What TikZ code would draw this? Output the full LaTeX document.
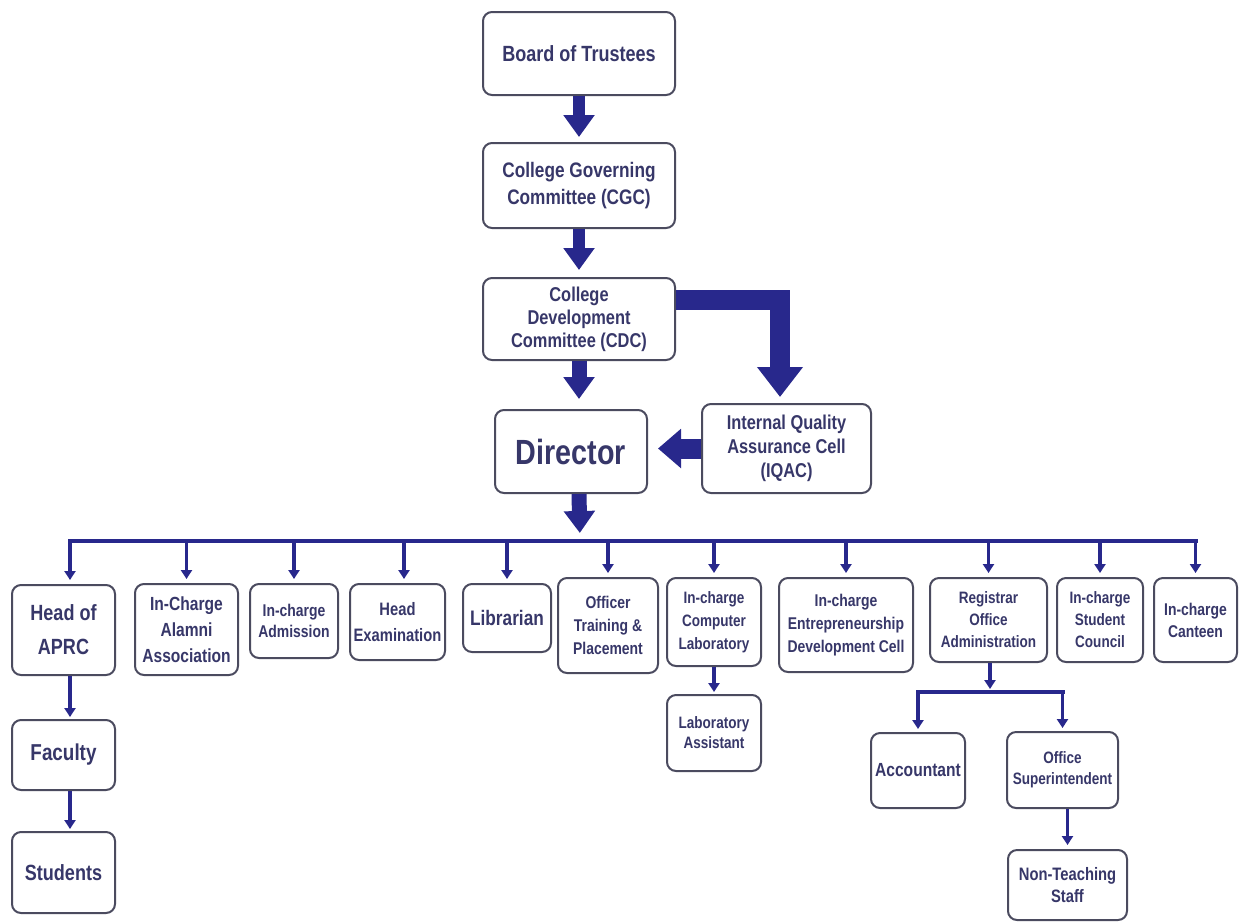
\documentclass[tikz,border=0pt]{standalone}
\usepackage{fontspec}
\newfontfamily\cf[FakeStretch=0.82]{Liberation Sans}
\usetikzlibrary{arrows.meta,calc}
\definecolor{navy}{RGB}{40,40,140}
\definecolor{boxline}{RGB}{75,75,95}
\definecolor{txt}{RGB}{55,55,105}
\newcommand\fsz[2]{\cf\bfseries\fontsize{#1}{#2}\selectfont}
\tikzset{
  box/.style={draw=boxline, line width=2pt, rounded corners=9pt, fill=white, align=center, text=txt, inner sep=0pt},
  bigarr/.style={draw=navy, line width=12pt, -{Triangle[width=30pt,length=22pt]}},
  widearr/.style={draw=navy, line width=20pt, line join=miter, -{Triangle[width=44pt,length=30pt]}},
  thinarr/.style={draw=navy, line width=3.5pt, -{Triangle[width=11pt,length=9pt]}},
  busline/.style={draw=navy, line width=4.5pt, line cap=rect},
}
\begin{document}
\begin{tikzpicture}[x=1pt,y=-1pt]
\useasboundingbox (0,0) rectangle (1239,922);
\fill[white] (0,0) rectangle (1239,922);
% top chain
\node[box, minimum width=192pt, minimum height=83pt, font=\fsz{22}{27}] (bot) at (579,53.5) {Board of Trustees};
\node[box, minimum width=192pt, minimum height=85pt, font=\fsz{21}{27}] (cgc) at (579,185.5) {College Governing\\Committee (CGC)};
\node[box, minimum width=192pt, minimum height=82pt, font=\fsz{20}{23}] (cdc) at (579,319) {College\\Development\\Committee (CDC)};
\node[box, minimum width=152pt, minimum height=83pt, font=\fsz{35}{40}] (dir) at (571,451.5) {Director};
\node[box, minimum width=169pt, minimum height=89pt, font=\fsz{20}{24}] (iqac) at (786.5,448.5) {Internal Quality\\Assurance Cell\\(IQAC)};
% bottom row
\node[box, minimum width=103pt, minimum height=90pt, font=\fsz{22}{34}] (aprc) at (63.5,630) {Head of\\APRC};
\node[box, minimum width=103pt, minimum height=91pt, font=\fsz{19}{26}] (alum) at (186.5,629.5) {In-Charge\\Alamni\\Association};
\node[box, minimum width=88pt, minimum height=74pt, font=\fsz{17}{21}] (adm) at (294,621) {In-charge\\Admission};
\node[box, minimum width=95pt, minimum height=76pt, font=\fsz{18}{26}] (exam) at (397.5,622) {Head\\Examination};
\node[box, minimum width=88pt, minimum height=68pt, font=\fsz{21}{26}] (lib) at (507,618) {Librarian};
\node[box, minimum width=100pt, minimum height=95pt, font=\fsz{17}{23}] (otp) at (608,625.5) {Officer\\Training \&\\Placement};
\node[box, minimum width=94pt, minimum height=88pt, font=\fsz{16.5}{23}] (icl) at (714,622) {In-charge\\Computer\\Laboratory};
\node[box, minimum width=134pt, minimum height=94pt, font=\fsz{17}{23}] (edc) at (846,625) {In-charge\\Entrepreneurship\\Development Cell};
\node[box, minimum width=117pt, minimum height=84pt, font=\fsz{16.5}{22}] (reg) at (988.5,620) {Registrar\\Office\\Administration};
\node[box, minimum width=86pt, minimum height=84pt, font=\fsz{16.5}{22}] (stc) at (1100,620) {In-charge\\Student\\Council};
\node[box, minimum width=83pt, minimum height=84pt, font=\fsz{17}{22}] (can) at (1195.5,620) {In-charge\\Canteen};
% sub boxes
\node[box, minimum width=94pt, minimum height=76pt, font=\fsz{16.5}{20}] (lab) at (714,733) {Laboratory\\Assistant};
\node[box, minimum width=103pt, minimum height=70pt, font=\fsz{23}{28}] (fac) at (63.5,755) {Faculty};
\node[box, minimum width=103pt, minimum height=81pt, font=\fsz{22}{28}] (stu) at (63.5,872.5) {Students};
\node[box, minimum width=94pt, minimum height=75pt, font=\fsz{19}{24}] (acc) at (918,770.5) {Accountant};
\node[box, minimum width=111pt, minimum height=76pt, font=\fsz{16.5}{21}] (osup) at (1062.5,770) {Office\\Superintendent};
\node[box, minimum width=119pt, minimum height=70pt, font=\fsz{18}{22}] (nts) at (1067.5,885) {Non-Teaching\\Staff};
% coordinates
\coordinate (bus) at (580,541);
\coordinate (rbus) at (990,692);
\coordinate (ax) at ([xshift=6.5pt]aprc.north);
\coordinate (ex) at ([xshift=6.5pt]exam.north);
% thick arrows
\draw[bigarr, shorten >=5pt] (bot.south) -- (cgc.north);
\draw[bigarr, shorten >=7pt] (cgc.south) -- (cdc.north);
\draw[bigarr, line width=15pt, shorten >=10pt] (cdc.south) -- (dir.north -| cdc.south);
\draw[bigarr, line width=15pt, shorten >=8pt] (dir.south -| cdc.south) -- (bus);
\draw[widearr, shorten >=6pt] ([yshift=19pt]cdc.east) -| ([xshift=-6.5pt]iqac.north);
\draw[widearr, -{Triangle[width=38pt,length=23pt]}, shorten >=10pt] (iqac.west) -- (iqac.west -| dir.east);
% bus
\draw[busline] (ax |- bus) -- (can.north |- bus);
\draw[thinarr, shorten >=4pt] (ax |- bus) -- (ax);
\draw[thinarr, shorten >=4pt] (ex |- bus) -- (ex);
\foreach \n in {alum,adm,lib,otp,icl,edc,reg,stc,can}
  \draw[thinarr, shorten >=4pt] (\n.north |- bus) -- (\n.north);
% sub chains
\draw[thinarr, shorten >=2pt] (ax |- aprc.south) -- (ax |- fac.north);
\draw[thinarr, shorten >=2pt] (ax |- fac.south) -- (ax |- stu.north);
\draw[thinarr, shorten >=2pt] (icl.south) -- (lab.north);
\draw[thinarr, shorten >=3pt] (reg.south -| rbus) -- (rbus);
\draw[busline] (acc.north |- rbus) -- (osup.north |- rbus);
\draw[thinarr, shorten >=3pt] (acc.north |- rbus) -- (acc.north);
\draw[thinarr, shorten >=3pt] (osup.north |- rbus) -- (osup.north);
\draw[thinarr, shorten >=4pt] (osup.south -| nts.north) -- (nts.north);
\end{tikzpicture}
\end{document}
